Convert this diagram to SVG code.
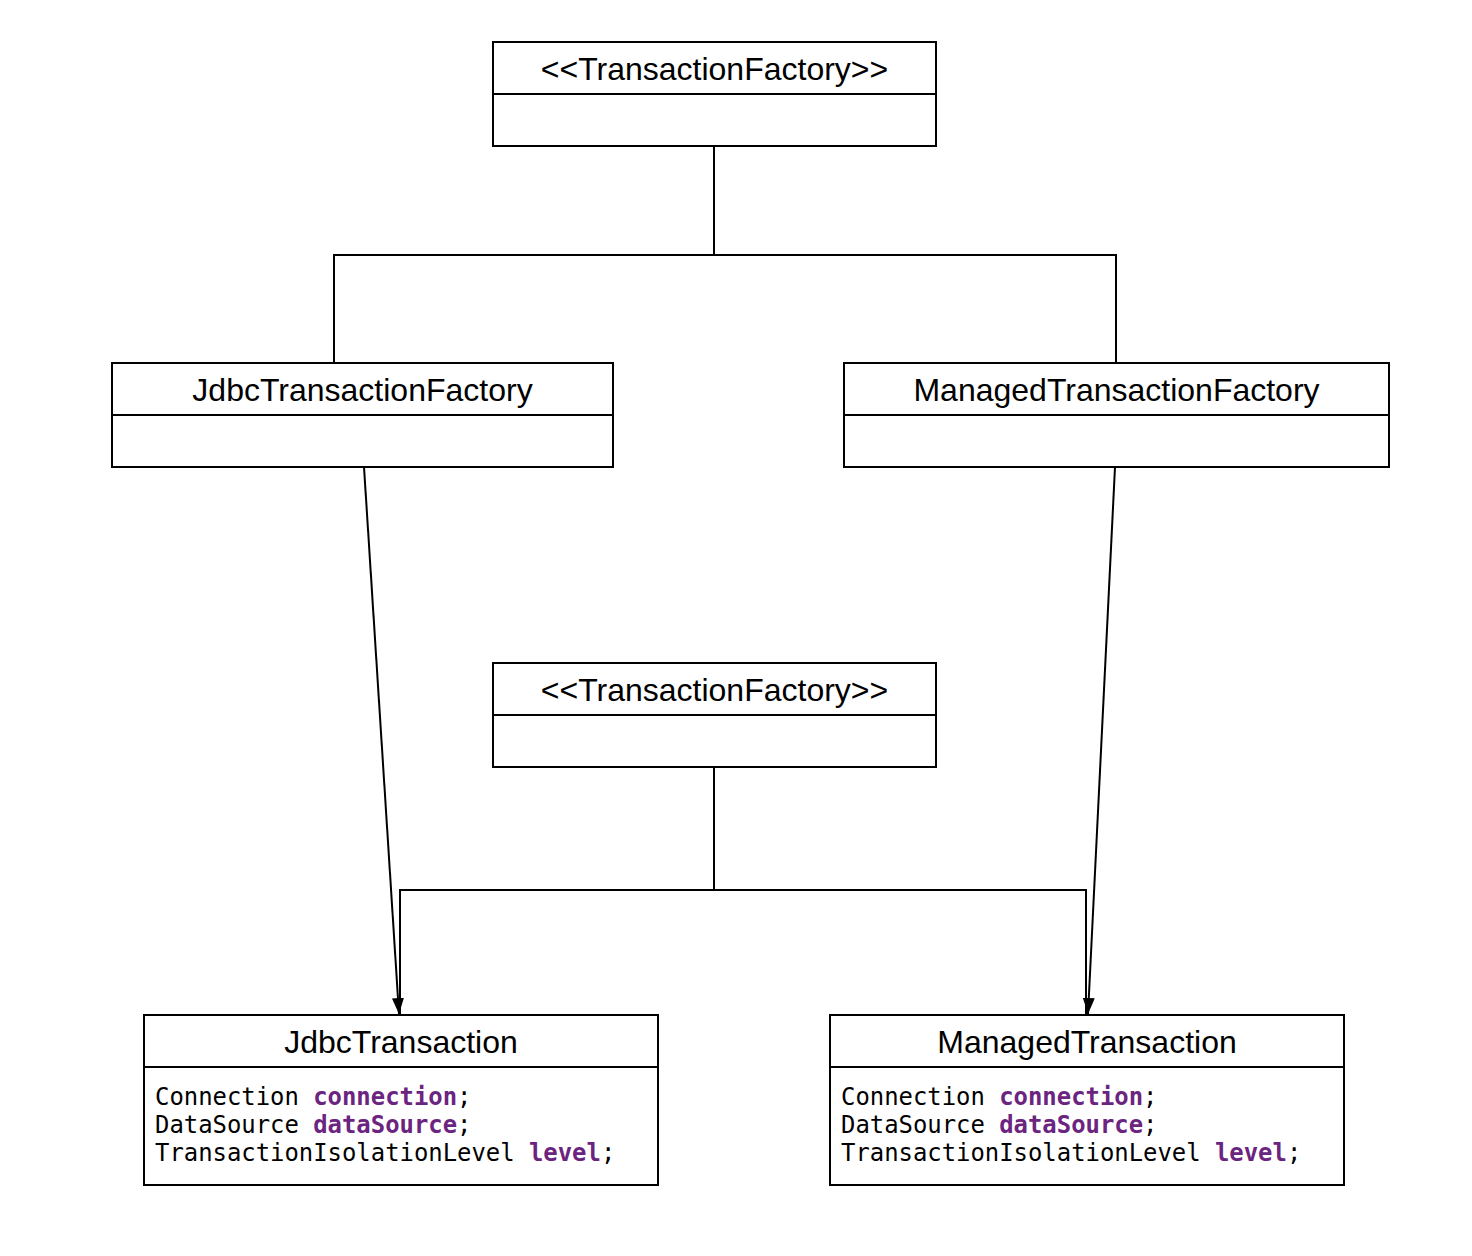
<svg xmlns="http://www.w3.org/2000/svg" width="1472" height="1256" viewBox="0 0 1472 1256">
  <style>
    .box { fill: #ffffff; stroke: #000000; stroke-width: 2; }
    .sep { stroke: #000000; stroke-width: 2; }
    .title { font-family: "Liberation Sans", Arial, sans-serif; font-size: 32px; fill: #000000; text-anchor: middle; }
    .code { font-family: "DejaVu Sans Mono", "Liberation Mono", monospace; font-size: 23.9px; fill: #000000; }
    .kw { font-weight: bold; fill: #6b2480; }
    .edge { fill: none; stroke: #000000; stroke-width: 2; }
  </style>
  <defs>
    <marker id="arrow" markerWidth="18" markerHeight="14" refX="16" refY="6" orient="auto" markerUnits="userSpaceOnUse">
      <path d="M0,0 L16,6 L0,12 Z" fill="#000000"/>
    </marker>
  </defs>
  <rect width="1472" height="1256" fill="#ffffff"/>

  <g id="connectors">
    <path class="edge" d="M714,146 V254 M334,363 V255 H1116 V363"/>
    <path class="edge" d="M714,767 V890 M400,1015 V890 H1086 V1015"/>
    <path class="edge" d="M364,467 L399,1014" marker-end="url(#arrow)"/>
    <path class="edge" d="M1115,467 L1088,1014" marker-end="url(#arrow)"/>
  </g>

  <g id="transaction-factory-top">
    <rect class="box" x="493" y="42" width="443" height="104"/>
    <line class="sep" x1="493" y1="94" x2="936" y2="94"/>
    <text class="title" x="714.5" y="80">&lt;&lt;TransactionFactory&gt;&gt;</text>
  </g>

  <g id="jdbc-transaction-factory">
    <rect class="box" x="112" y="363" width="501" height="104"/>
    <line class="sep" x1="112" y1="415" x2="613" y2="415"/>
    <text class="title" x="362.5" y="401">JdbcTransactionFactory</text>
  </g>

  <g id="managed-transaction-factory">
    <rect class="box" x="844" y="363" width="545" height="104"/>
    <line class="sep" x1="844" y1="415" x2="1389" y2="415"/>
    <text class="title" x="1116.5" y="401">ManagedTransactionFactory</text>
  </g>

  <g id="transaction-factory-middle">
    <rect class="box" x="493" y="663" width="443" height="104"/>
    <line class="sep" x1="493" y1="715" x2="936" y2="715"/>
    <text class="title" x="714.5" y="701">&lt;&lt;TransactionFactory&gt;&gt;</text>
  </g>

  <g id="jdbc-transaction">
    <rect class="box" x="144" y="1015" width="514" height="170"/>
    <line class="sep" x1="144" y1="1067" x2="658" y2="1067"/>
    <text class="title" x="401" y="1053">JdbcTransaction</text>
    <text class="code" x="155" y="1105">Connection <tspan class="kw">connection</tspan>;</text>
    <text class="code" x="155" y="1133">DataSource <tspan class="kw">dataSource</tspan>;</text>
    <text class="code" x="155" y="1161">TransactionIsolationLevel <tspan class="kw">level</tspan>;</text>
  </g>

  <g id="managed-transaction">
    <rect class="box" x="830" y="1015" width="514" height="170"/>
    <line class="sep" x1="830" y1="1067" x2="1344" y2="1067"/>
    <text class="title" x="1087" y="1053">ManagedTransaction</text>
    <text class="code" x="841" y="1105">Connection <tspan class="kw">connection</tspan>;</text>
    <text class="code" x="841" y="1133">DataSource <tspan class="kw">dataSource</tspan>;</text>
    <text class="code" x="841" y="1161">TransactionIsolationLevel <tspan class="kw">level</tspan>;</text>
  </g>
</svg>
